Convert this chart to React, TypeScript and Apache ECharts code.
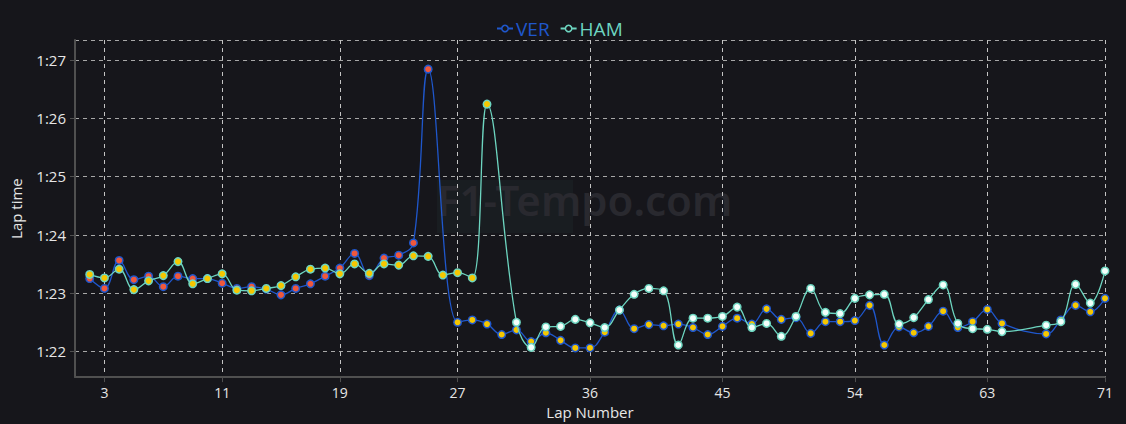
import React, { useEffect, useRef } from "react";
import * as echarts from "echarts";

// Lap numbers 1..71 (lap 1 has no recorded time)
const laps: number[] = Array.from({ length: 71 }, (_, i) => i + 1);

// Lap times in seconds (null = no lap time / pit lap)
const verTimes: (number | null)[] = [
  null, 83.25, 83.08, 83.56, 83.23, 83.29, 83.11, 83.29, 83.25, 83.25,
  83.17, 83.08, 83.11, 83.07, 82.97, 83.08, 83.16, 83.29, 83.43, 83.68,
  83.30, 83.60, 83.65, 83.86, 86.84, null, 82.50, 82.54, 82.47, 82.29,
  82.37, 82.17, 82.32, 82.19, 82.06, 82.06, 82.33, 82.71, 82.39, 82.46,
  82.44, 82.47, 82.41, 82.29, 82.43, 82.57, 82.47, 82.73, 82.55, 82.58,
  82.31, 82.51, 82.51, 82.53, 82.79, 82.11, 82.42, 82.32, 82.43, 82.69,
  82.41, 82.51, 82.72, 82.48, null, null, 82.30, 82.54, 82.79, 82.68,
  82.91,
];

const hamTimes: (number | null)[] = [
  null, 83.32, 83.26, 83.41, 83.06, 83.21, 83.30, 83.54, 83.16, 83.25,
  83.33, 83.05, 83.04, 83.08, 83.13, 83.28, 83.41, 83.43, 83.33, 83.50,
  83.34, 83.50, 83.48, 83.64, 83.63, 83.31, 83.35, 83.26, 86.24, null,
  82.50, 82.07, 82.42, 82.43, 82.55, 82.49, 82.41, 82.71, 82.98, 83.08,
  83.04, 82.11, 82.57, 82.57, 82.60, 82.76, 82.41, 82.48, 82.26, 82.60,
  83.08, 82.67, 82.65, 82.91, 82.97, 82.98, 82.47, 82.58, 82.89, 83.14,
  82.48, 82.39, 82.38, 82.34, null, null, 82.45, 82.51, 83.15, 82.83,
  83.38,
];

// Tyre stints: compound used before and after the pit stop lap
const verPitLap = 26;
const hamPitLap = 30;
const verCompounds = ["soft", "medium"];
const hamCompounds = ["medium", "hard"];

// Laps labelled on the x axis
const xTickLaps: number[] = [3, 11, 19, 27, 36, 45, 54, 63, 71];

const compoundColor: Record<string, string> = {
  soft: "#f0583c",
  medium: "#f6c700",
  hard: "#f4fffb",
};

const BG = "#16161b";
const VER_COLOR = "#1f57cc";
const HAM_COLOR = "#6dd5c0";

function fmtLap(v: number): string {
  const m = Math.floor(v / 60);
  const s = Math.floor(v - m * 60 + 1e-6);
  return m + ":" + (s < 10 ? "0" + s : String(s));
}

function buildData(times: (number | null)[], pitLap: number, compounds: string[]) {
  return times.map((t, i) => {
    const lap = laps[i];
    if (t === null) return null;
    const c = lap < pitLap ? compounds[0] : compounds[1];
    return { value: t, itemStyle: { color: compoundColor[c] } };
  });
}

export default function App() {
  const ref = useRef<HTMLDivElement>(null);

  useEffect(() => {
    if (!ref.current) return;
    document.body.style.margin = "0";
    document.body.style.background = BG;
    const chart = echarts.init(ref.current, null, { renderer: "svg" });
    const font = "'Open Sans', 'Noto Sans', sans-serif";
    const showTick = (idx: number) => xTickLaps.indexOf(laps[idx]) >= 0;

    chart.setOption({
      animation: false,
      backgroundColor: BG,
      textStyle: { fontFamily: font },
      legend: {
        top: 14,
        left: 491,
        itemGap: 10,
        itemWidth: 16,
        itemHeight: 8,
        textStyle: { fontSize: 19, color: "inherit", fontFamily: font, padding: [0, 0, 0, -2] },
        data: [
          { name: "VER", itemStyle: { color: BG, borderColor: VER_COLOR, borderWidth: 1.5 }, textStyle: { color: VER_COLOR } },
          { name: "HAM", itemStyle: { color: BG, borderColor: HAM_COLOR, borderWidth: 1.5 }, textStyle: { color: HAM_COLOR } },
        ],
      },
      graphic: [
        {
          type: "rect",
          left: 437,
          top: 180,
          shape: { width: 136, height: 53 },
          style: { fill: "#191d21" },
          z: 0,
          silent: true,
        },
        {
          type: "text",
          left: 437,
          top: 178,
          style: {
            text: "F1-Tempo.com",
            fill: "#29292f",
            fontSize: 42,
            fontWeight: 600,
            fontFamily: "'Noto Sans', sans-serif",
          },
          z: 0,
          silent: true,
        },
      ],
      grid: { left: 74, right: 21, top: 40, bottom: 43, containLabel: false },
      xAxis: {
        type: "category",
        boundaryGap: false,
        data: laps.map(String),
        name: "Lap Number",
        nameLocation: "middle",
        nameGap: 18,
        nameTextStyle: { color: "#e6e6e6", fontSize: 15, fontFamily: font },
        axisLine: { lineStyle: { color: "#505050", width: 2 } },
        axisTick: { show: true, interval: (i: number) => showTick(i), length: 5, lineStyle: { color: "#505050" } },
        axisLabel: {
          interval: (i: number) => showTick(i),
          color: "#e6e6e6",
          fontSize: 14,
          margin: 8,
          fontFamily: font,
        },
        splitLine: {
          show: true,
          interval: (i: number) => showTick(i),
          lineStyle: { color: "#c4c4c4", type: [4, 4], width: 1 },
        },
      },
      yAxis: {
        type: "value",
        min: (v: { min: number }) => v.min - 0.5,
        max: (v: { max: number }) => v.max + 0.5,
        name: "Lap time",
        nameLocation: "middle",
        nameGap: 52,
        nameTextStyle: { color: "#e6e6e6", fontSize: 15, fontFamily: font },
        axisLine: { show: true, lineStyle: { color: "#505050", width: 2 } },
        axisTick: { show: true, length: 5, lineStyle: { color: "#505050" } },
        axisLabel: {
          color: "#e6e6e6",
          fontSize: 15,
          margin: 9,
          showMinLabel: false,
          showMaxLabel: false,
          formatter: (v: number) => fmtLap(v),
          fontFamily: font,
        },
        splitLine: {
          show: true,
          lineStyle: { color: "#a8a8a8", type: [4, 4], width: 1 },
        },
      },
      series: [
        {
          name: "VER",
          type: "line",
          data: buildData(verTimes, verPitLap, verCompounds),
          connectNulls: true,
          smooth: 0.4,
          symbol: "circle",
          symbolSize: 7.5,
          color: VER_COLOR,
          lineStyle: { color: VER_COLOR, width: 1.3 },
          itemStyle: { borderColor: VER_COLOR, borderWidth: 1.5 },
          z: 3,
        },
        {
          name: "HAM",
          type: "line",
          data: buildData(hamTimes, hamPitLap, hamCompounds),
          connectNulls: true,
          smooth: 0.4,
          symbol: "circle",
          symbolSize: 7.5,
          color: HAM_COLOR,
          lineStyle: { color: HAM_COLOR, width: 1.3 },
          itemStyle: { borderColor: HAM_COLOR, borderWidth: 1.5 },
          z: 4,
        },
      ],
    });

    return () => chart.dispose();
  }, []);

  return <div ref={ref} style={{ position: "fixed", left: 0, top: 0, width: 1126, height: 424 }} />;
}
